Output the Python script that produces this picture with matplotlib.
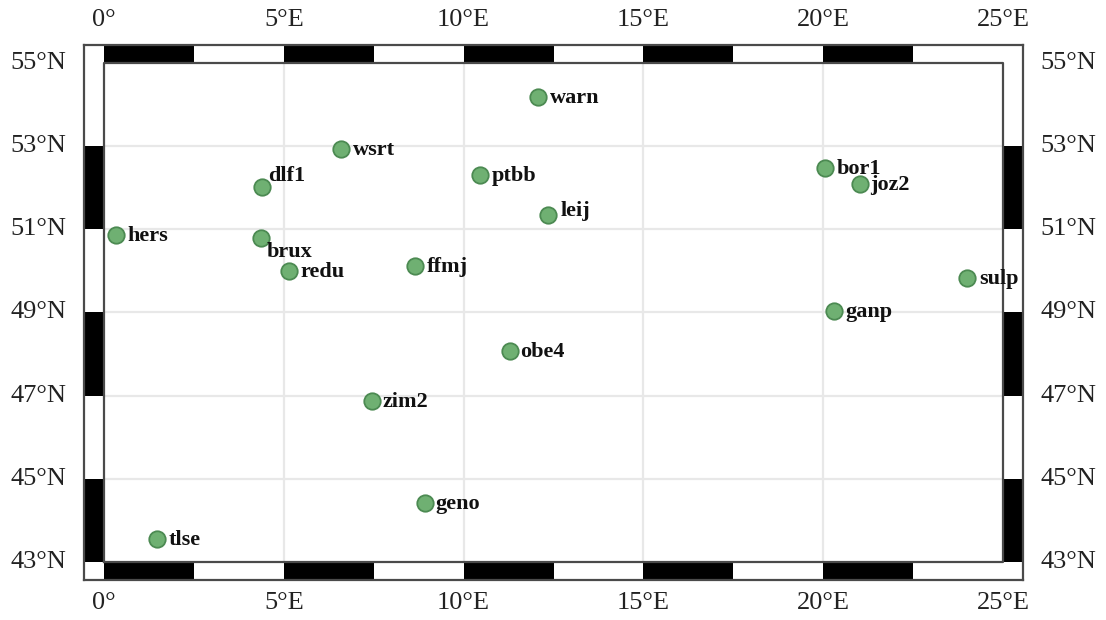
import matplotlib
matplotlib.use("Agg")
import matplotlib.pyplot as plt
from matplotlib.patches import Rectangle

stations = ["warn","wsrt","dlf1","ptbb","bor1","joz2","leij","hers","brux","redu","ffmj","sulp","ganp","obe4","zim2","geno","tlse"]
lons = [12.07,6.59,4.39,10.46,20.05,21.02,12.36,0.33,4.37,5.15,8.66,24.0,20.31,11.28,7.45,8.93,1.47]
lats = [54.18,52.92,52.02,52.31,52.47,52.10,51.34,50.87,50.80,50.00,50.11,49.83,49.03,48.07,46.88,44.42,43.56]
# label offsets in px (dx, dy up)
offsets = {"dlf1":(6,11),"leij":(12,4),"brux":(6,-14),"bor1":(12,-1),"joz2":(10,-1),
           "obe4":(10,-1),"geno":(10,-1),"zim2":(11,-1),"redu":(11,-1),"ffmj":(11,-1),"ganp":(11,-1)}
xticks = [0,5,10,15,20,25]
xlabels = ["0°","5°E","10°E","15°E","20°E","25°E"]
yticks = [43,45,47,49,51,53,55]
ylabels = ["43°N","45°N","47°N","49°N","51°N","53°N","55°N"]
top_black = [(0,2.5),(5,7.5),(10,12.5),(15,17.5),(20,22.5)]
side_black = [(51,53),(47,49),(43,45)]

W,H = 1106,620
x0,x1,y0,y1 = 104,1003,63,562   # inner frame in px
ox0,ox1,oy0,oy1 = 83.5,1023,45,580
sx = (x1-x0)/25; sy=(y1-y0)/12
fig = plt.figure(figsize=(W/100,H/100),dpi=100)
ax = fig.add_axes([ox0/W,1-oy1/H,(ox1-ox0)/W,(oy1-oy0)/H])
ax.set_xlim(-(x0-ox0)/sx, 25+(ox1-x1)/sx)
ax.set_ylim(43-(oy1-y1)/sy, 55+(y0-oy0)/sy)
xmin,xmax = ax.get_xlim(); ymin,ymax = ax.get_ylim()
edge="#4a4a4a"
for s in ax.spines.values():
    s.set_color(edge); s.set_linewidth(1.6)
ax.set_xticks([]); ax.set_yticks([])
for t in xticks[1:-1]:
    ax.plot([t,t],[43,55],color="#e8e8e8",lw=1.6,zorder=1)
for t in yticks[1:-1]:
    ax.plot([0,25],[t,t],color="#e8e8e8",lw=1.6,zorder=1)
for a,b in top_black:
    ax.add_patch(Rectangle((a,55),b-a,ymax-55,color="black",lw=0,zorder=2))
    ax.add_patch(Rectangle((a,ymin),b-a,43-ymin,color="black",lw=0,zorder=2))
for a,b in side_black:
    ax.add_patch(Rectangle((xmin,a),-xmin,b-a,color="black",lw=0,zorder=2))
    ax.add_patch(Rectangle((25,a),xmax-25,b-a,color="black",lw=0,zorder=2))
ax.plot([0,25,25,0,0],[43,43,55,55,43],color=edge,lw=1.6,zorder=3,clip_on=False)
ax.scatter(lons,lats,s=140,facecolor="#6fb072",edgecolor="#4c8a52",lw=1.3,zorder=4)
pt=72/100
for n,lo,la in zip(stations,lons,lats):
    dx,dy = offsets.get(n,(12,-1))
    ax.annotate(n,(lo,la),xytext=(dx*pt,dy*pt),textcoords="offset points",ha="left",va="center",
                family="Liberation Serif",weight="bold",fontsize=16,color="#111111",zorder=5)
tfont=dict(family="Liberation Serif",fontsize=19,color="#222222")
for t,l in zip(xticks,xlabels):
    ax.annotate(l,(t,ymax),xytext=(0,14*pt),textcoords="offset points",ha="center",va="bottom",annotation_clip=False,**tfont)
    ax.annotate(l,(t,ymin),xytext=(0,-12*pt),textcoords="offset points",ha="center",va="top",annotation_clip=False,**tfont)
for t,l in zip(yticks,ylabels):
    ax.annotate(l,(xmin,t),xytext=(-17*pt,0),textcoords="offset points",ha="right",va="center",annotation_clip=False,**tfont)
    ax.annotate(l,(xmax,t),xytext=(17*pt,0),textcoords="offset points",ha="left",va="center",annotation_clip=False,**tfont)
fig.savefig("out.png",dpi=100)
